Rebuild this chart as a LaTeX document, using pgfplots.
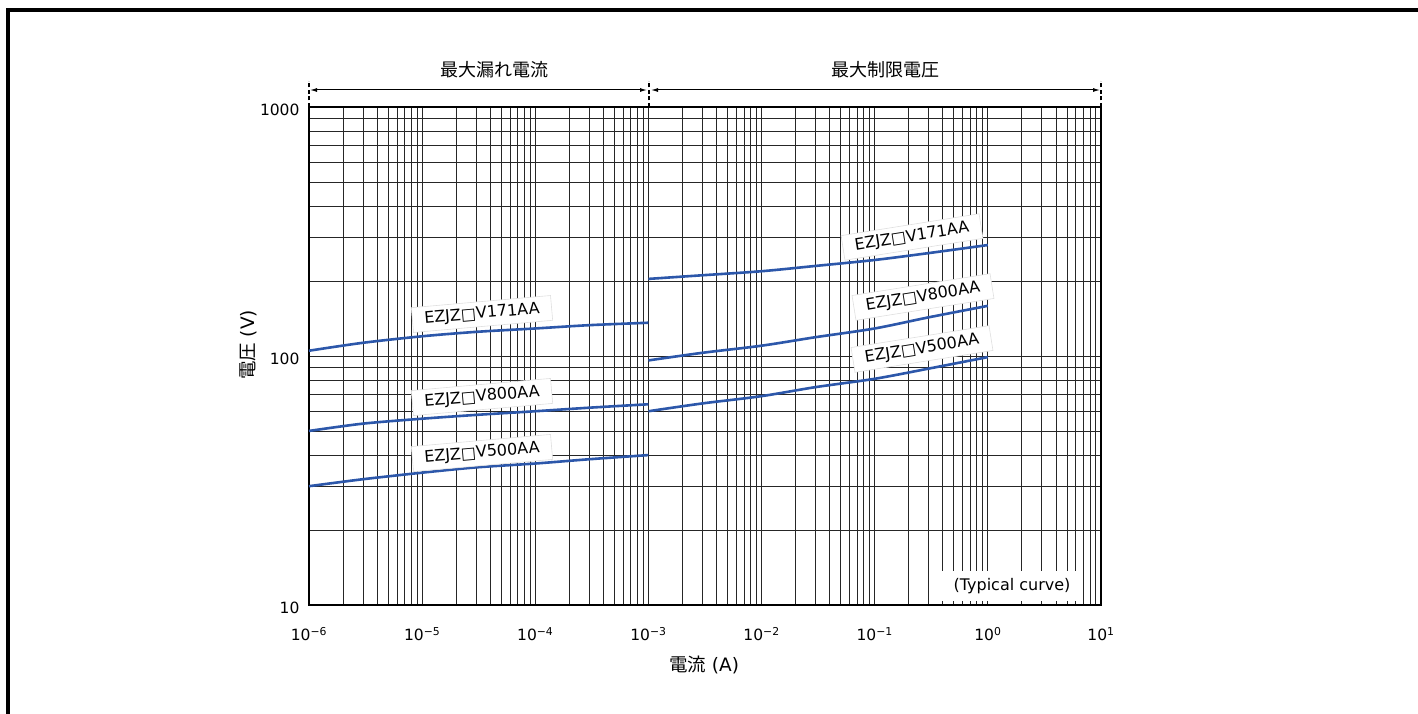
\documentclass[border=0pt]{standalone}
\usepackage{fontspec}
\setmainfont{DejaVu Sans}
\newfontfamily\cjk{Noto Sans CJK JP}
\usepackage{pgfplots}
\pgfplotsset{compat=1.18}
\usetikzlibrary{arrows.meta}
\definecolor{curve}{RGB}{44,87,170}

\begin{document}
\begin{tikzpicture}[x=1pt,y=1pt]
\useasboundingbox (0,0) rectangle (1418,713);
\fill[white] (0,0) rectangle (1418,713);
\draw[line width=3.5pt] (8,-5) -- (8,703) -- (1425,703);
\begin{axis}[
  at={(309pt,108pt)}, anchor=south west,
  scale only axis, width=792pt, height=498pt,
  xmode=log, ymode=log,
  xmin=1e-6, xmax=10, ymin=10, ymax=1000,
  grid=both,
  major grid style={black!85, line width=0.85pt},
  minor grid style={black!85, line width=0.85pt},
  axis line style={black, line width=1.3pt},
  major tick length=0pt, minor tick length=0pt,
  xtick={1e-6,1e-5,1e-4,1e-3,1e-2,1e-1,1,10},
  xticklabels={10\textsuperscript{−6},10\textsuperscript{−5},10\textsuperscript{−4},10\textsuperscript{−3},10\textsuperscript{−2},10\textsuperscript{−1},10\textsuperscript{0},10\textsuperscript{1}},
  minor xtick={2e-6,3e-6,4e-6,5e-6,6e-6,7e-6,8e-6,9e-6,
    2e-5,3e-5,4e-5,5e-5,6e-5,7e-5,8e-5,9e-5,
    2e-4,3e-4,4e-4,5e-4,6e-4,7e-4,8e-4,9e-4,
    2e-3,3e-3,4e-3,5e-3,6e-3,7e-3,8e-3,9e-3,
    2e-2,3e-2,4e-2,5e-2,6e-2,7e-2,8e-2,9e-2,
    2e-1,3e-1,4e-1,5e-1,6e-1,7e-1,8e-1,9e-1,
    2,3,4,5,6,7,8,9},
  ytick={10,100,1000},
  yticklabels={10,100,1000},
  minor ytick={20,30,40,50,60,70,80,90,200,300,400,500,600,700,800,900},
  tick label style={font=\fontsize{15.5}{18}\selectfont},
  xticklabel style={yshift=-19pt},
  yticklabel style={xshift=-6pt, yshift=-3pt},
]
% Maximum leakage current region
\addplot[curve, line width=2.6pt, smooth] coordinates {(1e-6,105)(3e-6,113)(1e-5,120)(3e-5,125)(1e-4,129)(3e-4,133)(1e-3,136)};
\addplot[curve, line width=2.6pt, smooth] coordinates {(1e-6,50)(3e-6,53.5)(1e-5,56)(3e-5,58)(1e-4,60)(3e-4,62)(1e-3,64)};
\addplot[curve, line width=2.6pt, smooth] coordinates {(1e-6,30)(3e-6,32)(1e-5,34)(3e-5,35.7)(1e-4,37)(3e-4,38.5)(1e-3,40)};
% Maximum clamping voltage region
\addplot[curve, line width=2.6pt, smooth] coordinates {(1e-3,204)(3e-3,211)(1e-2,219)(3e-2,230)(1e-1,243)(3e-1,259)(1,279)};
\addplot[curve, line width=2.6pt, smooth] coordinates {(1e-3,96)(3e-3,103)(1e-2,110)(3e-2,119)(1e-1,129)(3e-1,143)(1,159)};
\addplot[curve, line width=2.6pt, smooth] coordinates {(1e-3,60)(3e-3,64.5)(1e-2,69)(3e-2,75)(1e-1,81)(3e-1,89)(1,99)};
\end{axis}

% series labels
\tikzset{lbl/.style={fill=white, draw=black!12, line width=0.6pt, inner xsep=12pt, inner ysep=5pt, font=\fontsize{16}{19}\selectfont}}
\node[lbl, rotate=5] at (482,399) {EZJZ□V171AA};
\node[lbl, rotate=5] at (482,316) {EZJZ□V800AA};
\node[lbl, rotate=5] at (482,260) {EZJZ□V500AA};
\node[lbl, rotate=9] at (912,476) {EZJZ□V171AA};
\node[lbl, rotate=9] at (923,416) {EZJZ□V800AA};
\node[lbl, rotate=9] at (922,364) {EZJZ□V500AA};

% typical curve note
\fill[white] (932,112) rectangle (1076,142);
\node[font=\fontsize{16}{18}\selectfont] at (1012,127) {(Typical curve)};

% range markers
\draw[line width=1.2pt, dash pattern=on 4pt off 2.5pt] (309,606) -- (309,632);
\draw[line width=1.2pt, dash pattern=on 4pt off 2.5pt] (649,606) -- (649,632);
\draw[line width=1.2pt, dash pattern=on 4pt off 2.5pt] (1101,606) -- (1101,632);
\draw[line width=1pt, {Latex[length=7pt,width=4pt]}-{Latex[length=7pt,width=4pt]}] (310,623) -- (647,623);
\draw[line width=1pt, {Latex[length=7pt,width=4pt]}-{Latex[length=7pt,width=4pt]}] (651,623) -- (1100,623);
\node[font=\cjk\fontsize{18}{20}\selectfont] at (494,643) {最大漏れ電流};
\node[font=\cjk\fontsize{18}{20}\selectfont] at (885,643) {最大制限電圧};

% axis labels
\node[font=\fontsize{18.5}{21}\selectfont] at (704,48) {{\cjk 電流} (A)};
\node[font=\fontsize{18.5}{21}\selectfont, rotate=90] at (248,368) {{\cjk 電圧} (V)};
\end{tikzpicture}
\end{document}
